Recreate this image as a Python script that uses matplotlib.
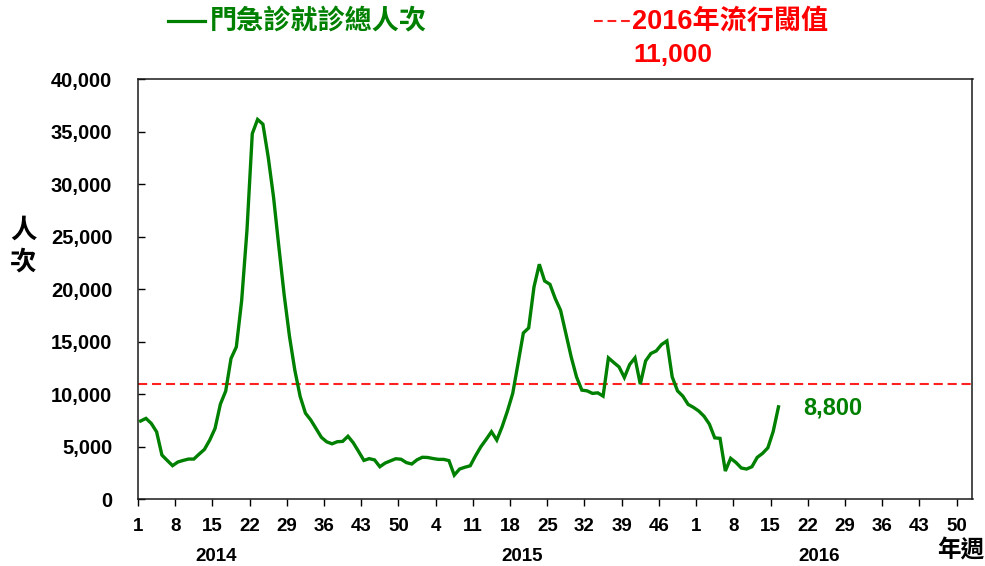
import matplotlib
matplotlib.use("Agg")
import matplotlib.pyplot as plt
from matplotlib.lines import Line2D
from matplotlib.ticker import FuncFormatter, FixedLocator
import matplotlib.transforms as mtransforms
import numpy as np

# ---------------- data ----------------
years = ["2014", "2015", "2016"]
weeks_per_year = [53, 52, 52]

visits_2014 = [7450, 7700, 7220, 6420, 4210, 3700, 3200, 3550, 3700, 3830,
               3830, 4300, 4750, 5640, 6750, 9060, 10300, 13400, 14500, 18900,
               25600, 34800, 36150, 35700, 32560, 28760, 24030, 19450, 15500, 12300,
               9800, 8200, 7550, 6730, 5900, 5470, 5280, 5480, 5510, 6000,
               5380, 4550, 3700, 3870, 3750, 3100, 3450, 3660, 3860, 3810,
               3490, 3360, 3760]
visits_2015 = [4000, 3980, 3880, 3800, 3800, 3680, 2300, 2880, 3050, 3190,
               4140, 5000, 5700, 6430, 5640, 6900, 8390, 10080, 12930, 15830,
               16310, 20210, 22370, 20780, 20460, 19100, 17990, 15770, 13550, 11650,
               10390, 10320, 10080, 10130, 9820, 13460, 13020, 12600, 11590, 12830,
               13460, 10960, 13170, 13880, 14120, 14730, 15070, 11650, 10320, 9820,
               9030, 8750]
visits_2016 = [8400, 7900, 7150, 5850, 5800, 2690, 3900, 3500, 2980, 2880,
               3100, 3990, 4370, 4900, 6450, 8800]

threshold = 11000
threshold_text = "11,000"
latest_text = "8,800"

x_tick_labels = ["1", "8", "15", "22", "29", "36", "43", "50",
                 "4", "11", "18", "25", "32", "39", "46",
                 "1", "8", "15", "22", "29", "36", "43", "50"]
y_ticks = [0, 5000, 10000, 15000, 20000, 25000, 30000, 35000, 40000]

series_label = "門急診就診總人次"
threshold_label = "2016年流行閾值"
y_label = "人\n次"
x_label = "年週"

# ---------------- figure ----------------
W, H = 985, 566
fig = plt.figure(figsize=(W / 100, H / 100), dpi=100)
fig.patch.set_facecolor("white")

L, R, T, B = 138, 972.5, 79, 499.3
ax = fig.add_axes([L / W, 1 - B / H, (R - L) / W, (B - T) / H])

GREEN = "#008000"
RED = "#FF2020"
LAT = "Liberation Sans"
CJK = "Noto Sans CJK TC"

values = np.array(visits_2014 + visits_2015 + visits_2016, dtype=float)
xpos = np.arange(len(values)) + 0.5
total_weeks = sum(weeks_per_year)

ax.plot(xpos, values, color=GREEN, lw=2.4, solid_joinstyle="miter", zorder=3)
ax.axhline(threshold, color=RED, lw=1.5, dashes=(4.4, 2.3), zorder=2)

ax.set_xlim(0, total_weeks)
ax.set_ylim(0, 40000)

tick_pos = list(range(0, 7 * len(x_tick_labels), 7))
ax.xaxis.set_major_locator(FixedLocator(tick_pos))
ax.set_xticklabels(x_tick_labels)
ax.yaxis.set_major_locator(FixedLocator(y_ticks))
ax.yaxis.set_major_formatter(FuncFormatter(lambda v, p: f"{int(v):,}"))

ax.tick_params(axis="x", direction="out", length=5, width=1, pad=8.5,
               labelsize=13.5, color="black")
ax.tick_params(axis="y", direction="in", length=5, width=1, pad=18.5,
               labelsize=14.5, color="black")
for lab in ax.get_xticklabels() + ax.get_yticklabels():
    lab.set_fontfamily(LAT)
    lab.set_fontweight("bold")

for s in ax.spines.values():
    s.set_color("#1a1a1a")
    s.set_linewidth(1.1)

# y label
ax.set_ylabel(y_label, rotation=0, fontsize=19, family=[CJK, "DejaVu Sans"],
              fontweight="bold", linespacing=1.2, va="center", ha="center")
ax.yaxis.set_label_coords((23 - L) / (R - L), (B - 246) / (B - T))

# year labels under axis
year_centers = [14.7, 72.2, 128.1]
trans = mtransforms.blended_transform_factory(ax.transData, fig.transFigure)
for yr, xc in zip(years, year_centers):
    ax.text(xc, 1 - 556.5 / H, yr, transform=trans, ha="center", va="center",
            fontsize=13.5, fontweight="bold", family=LAT, clip_on=False)

fig.text(961 / W, 1 - 551 / H, x_label, ha="center", va="center",
         fontsize=17, fontweight="bold", family=[CJK, "DejaVu Sans"])

# latest value annotation
ax.text(803, 1 - 408 / H, latest_text, transform=mtransforms.blended_transform_factory(
    mtransforms.IdentityTransform(), fig.transFigure),
    ha="left", va="center", fontsize=17, fontweight="bold", family=LAT, color=GREEN)

# legend-like header
ly = 1 - 21 / H
fig.add_artist(Line2D([168 / W, 205 / W], [ly, ly], color=GREEN, lw=2.3,
                      transform=fig.transFigure))
fig.text(210 / W, ly, series_label, ha="left", va="center", fontsize=19.5,
         fontweight="bold", color=GREEN, family=[CJK, "DejaVu Sans"])

fig.add_artist(Line2D([594 / W, 630 / W], [ly, ly], color=RED, lw=1.5,
                      dashes=(4.2, 2.3), transform=fig.transFigure))
fig.text(632 / W, ly, threshold_label, ha="left", va="center", fontsize=19.5,
         fontweight="bold", color="#FF0000", family=[LAT, CJK])
fig.text(673 / W, 1 - 55 / H, threshold_text, ha="center", va="center",
         fontsize=19, fontweight="bold", color="#FF0000", family=LAT)

fig.savefig("out.png", dpi=100, facecolor="white")
